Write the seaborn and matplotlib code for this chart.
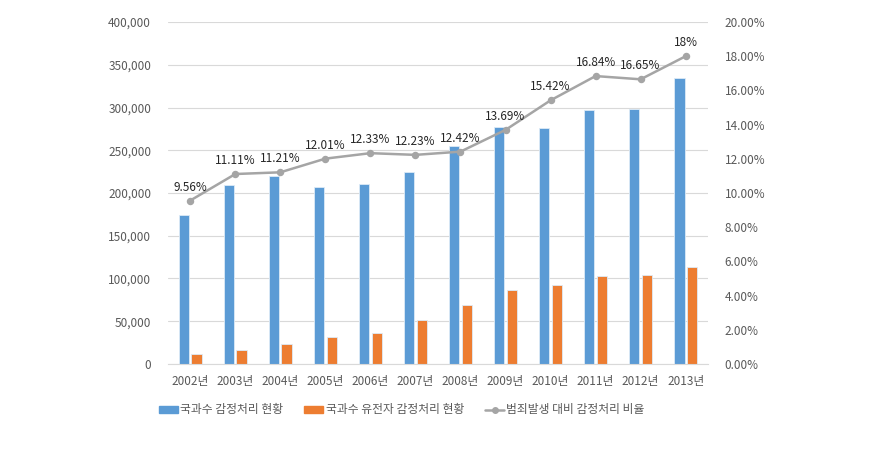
import pandas as pd
import matplotlib.pyplot as plt
import seaborn as sns
from matplotlib.lines import Line2D
from matplotlib.ticker import FuncFormatter, MultipleLocator

# données
years = ['2002년', '2003년', '2004년', '2005년', '2006년', '2007년',
         '2008년', '2009년', '2010년', '2011년', '2012년', '2013년']
total_cases = [174000, 209000, 220000, 207000, 211000, 224000,
               255000, 277000, 276000, 297000, 298000, 334000]
dna_cases = [12000, 16700, 23500, 31000, 36000, 51500,
             69000, 87000, 92000, 103000, 104000, 114000]
ratio = [9.56, 11.11, 11.21, 12.01, 12.33, 12.23,
         12.42, 13.69, 15.42, 16.84, 16.65, 18.0]
ratio_labels = ['9.56%', '11.11%', '11.21%', '12.01%', '12.33%', '12.23%',
                '12.42%', '13.69%', '15.42%', '16.84%', '16.65%', '18%']
series_names = ['국과수 감정처리 현황', '국과수 유전자 감정처리 현황', '범죄발생 대비 감정처리 비율']

sns.set_style('white')
plt.rcParams['font.family'] = ['Noto Sans CJK KR', 'DejaVu Sans']

df = pd.DataFrame({
    'year': years * 2,
    'value': total_cases + dna_cases,
    'series': [series_names[0]] * len(years) + [series_names[1]] * len(years),
})

fig = plt.figure(figsize=(8.83, 4.69), dpi=100)
ax = fig.add_axes([0.190, 0.224, 0.612, 0.729])

sns.barplot(data=df, x='year', y='value', hue='series', ax=ax,
            palette=['#5B9BD5', '#ED7D31'], width=0.56, gap=0.18,
            saturation=1, legend=False, linewidth=0.6, edgecolor='#DDEBF7')

ax.set_ylim(0, 400000)
ax.yaxis.set_major_locator(MultipleLocator(50000))
ax.yaxis.set_major_formatter(FuncFormatter(lambda v, p: f'{int(v):,}'))
ax.grid(axis='y', color='#D9D9D9', linewidth=0.8)
ax.set_axisbelow(True)
ax.set_xlabel('')
ax.set_ylabel('')
for s in ['top', 'left', 'right']:
    ax.spines[s].set_visible(False)
ax.spines['bottom'].set_color('#D9D9D9')
ax.tick_params(axis='both', length=0, colors='#595959', labelsize=8.5)
ax.tick_params(axis='y', pad=12)
ax.tick_params(axis='x', pad=8)

# axe secondaire pour le ratio
ax2 = ax.twinx()
sns.pointplot(x=years, y=ratio, ax=ax2, color='#A5A5A5', errorbar=None,
              markersize=4, linewidth=1.8)
ax2.set_ylim(0, 20)
ax2.yaxis.set_major_locator(MultipleLocator(2))
ax2.yaxis.set_major_formatter(FuncFormatter(lambda v, p: f'{v:.2f}%'))
ax2.tick_params(axis='y', length=0, colors='#595959', labelsize=8.5, pad=12)
for s in ['top', 'left', 'right', 'bottom']:
    ax2.spines[s].set_visible(False)
ax2.set_ylabel('')

for i, (v, lbl) in enumerate(zip(ratio, ratio_labels)):
    ax2.annotate(lbl, (i, v), xytext=(0, 5), textcoords='offset points',
                 ha='center', va='bottom', fontsize=8.5, color='#262626',
                 fontweight='medium')

handles = [
    plt.Rectangle((0, 0), 1, 1, color='#5B9BD5'),
    plt.Rectangle((0, 0), 1, 1, color='#ED7D31'),
    Line2D([0], [0], color='#A5A5A5', marker='o', markersize=4, linewidth=1.8),
]
fig.legend(handles, series_names, loc='center', bbox_to_anchor=(0.455, 0.126),
           ncol=3, frameon=False, fontsize=8.5, handlelength=1.6,
           handleheight=0.5, columnspacing=1.8, handletextpad=0.2,
           labelcolor='#595959')

plt.savefig('out.png', dpi=100)
